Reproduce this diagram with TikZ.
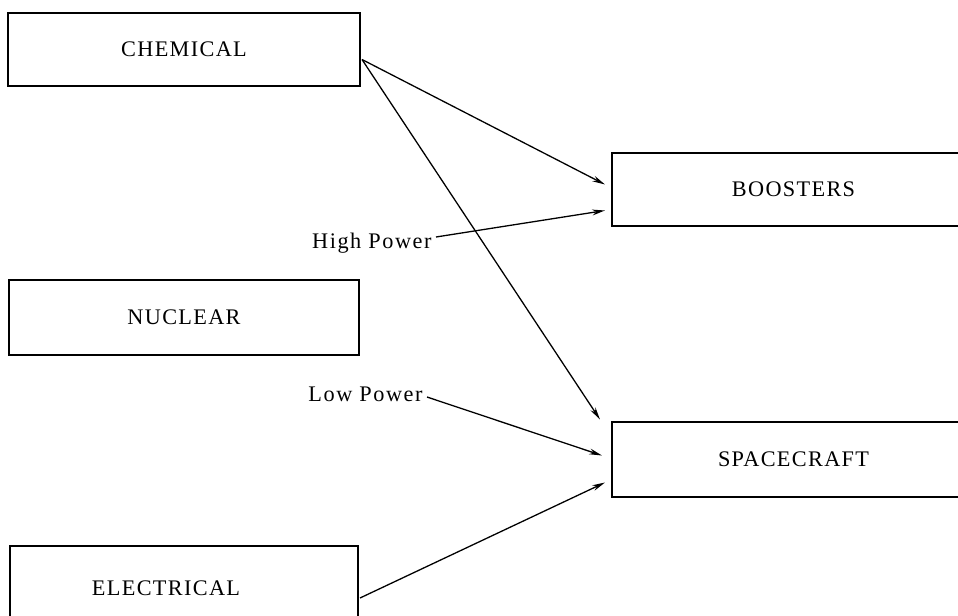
\documentclass[tikz,border=0pt]{standalone}
\usepackage{fontspec}
\setmainfont{Liberation Serif}
\usetikzlibrary{arrows.meta,calc}

\tikzset{
	block/.style={draw, line width=1.4pt, inner sep=0pt, outer sep=0pt,
		font=\fontsize{19}{22}\selectfont\addfontfeature{LetterSpace=6}},
	tag/.style={inner sep=1pt, anchor=east,
		font=\fontsize{19}{22}\selectfont\addfontfeature{LetterSpace=7}},
	feed/.style={line width=1.1pt, -{Stealth[length=11pt,width=5pt]}}
}

\begin{document}
\begin{tikzpicture}[x=0.03cm, y=-0.03cm]
	\useasboundingbox (0,0) rectangle (958,615);
	\clip (0,0) rectangle (958,615);

	\node[block, minimum width=10.56cm, minimum height=2.19cm] (chemical) at (184,49.5) {CHEMICAL};
	\node[block, minimum width=10.5cm, minimum height=2.25cm] (nuclear) at (184,317.5) {NUCLEAR};
	\node[block, minimum width=10.44cm, minimum height=2.52cm] (electrical) at (184,588) {};
	\node[font=\fontsize{19}{22}\selectfont\addfontfeature{LetterSpace=6}] (electxt) at (166,588) {ELECTRICAL};
	\node[block, minimum width=10.89cm, minimum height=2.19cm] (boosters) at (793.5,189.5) {BOOSTERS};
	\node[block, minimum width=10.89cm, minimum height=2.25cm] (spacecraft) at (793.5,459.5) {SPACECRAFT};

	\node[tag] (highpower) at (433,243) {High Power};
	\node[tag] (lowpower) at (424,394) {Low Power};

	\draw[feed] ($(chemical.east)+(2,10)$) -- ($(boosters.west)+(-7,-5)$);
	\draw[feed] ($(chemical.east)+(2,10)$) -- ($(spacecraft.west)+(-12,-40)$);
	\draw[feed] ($(highpower.east)+(3,-6)$) -- ($(boosters.west)+(-7,21)$);
	\draw[feed] ($(lowpower.east)+(3,3)$) -- ($(spacecraft.west)+(-10,-4)$);
	\draw[feed] ($(electrical.east)+(2,10)$) -- ($(spacecraft.west)+(-7,23)$);
\end{tikzpicture}
\end{document}
